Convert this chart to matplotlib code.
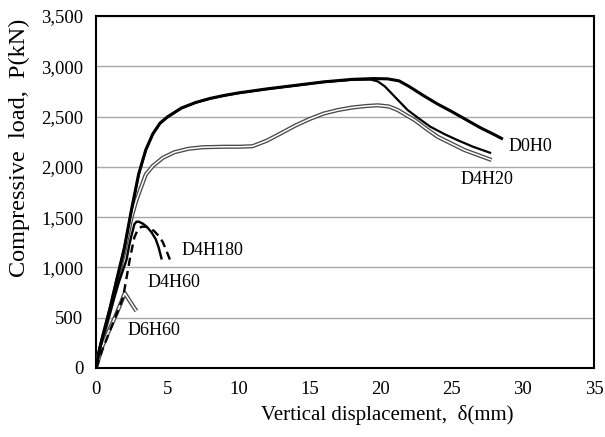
import matplotlib.pyplot as plt
from matplotlib.ticker import FuncFormatter

plt.rcParams["font.family"] = ["Liberation Serif", "DejaVu Serif"]

# curve data (mm, kN)
d0h0_x = [0, 0.2, 0.5, 1.0, 1.5, 2.0, 2.5, 3.0, 3.5, 4.0, 4.5, 5.0, 6.0, 7.0, 8.0, 9.0, 10.0, 12.0,
          14.0, 16.0, 18.0, 19.5, 20.5, 21.3, 22.0, 23.0, 24.0, 25.0, 26.0, 27.0, 28.0, 28.5]
d0h0_y = [0, 150, 330, 600, 900, 1200, 1580, 1930, 2170, 2330, 2435, 2495, 2585, 2640, 2680, 2710, 2735, 2775,
          2810, 2845, 2870, 2878, 2875, 2855, 2800, 2710, 2625, 2550, 2470, 2390, 2320, 2283]

d4h20a_x = [0, 0.2, 0.5, 1.0, 1.5, 2.0, 2.5, 3.0, 3.5, 4.0, 4.5, 5.0, 6.0, 7.0, 8.0, 9.0, 10.0, 12.0,
            14.0, 16.0, 18.0, 19.3, 19.8, 20.3, 21.0, 21.9, 22.7, 23.5, 24.5, 25.4, 26.5, 27.7]
d4h20a_y = [0, 140, 320, 590, 890, 1190, 1570, 1920, 2165, 2325, 2430, 2490, 2583, 2638, 2678, 2708, 2733, 2773,
            2808, 2843, 2866, 2868, 2850, 2800, 2697, 2565, 2480, 2399, 2325, 2266, 2200, 2140]

d4h20_x = [0, 0.2, 0.5, 1.0, 1.5, 2.0, 2.5, 2.8, 3.07, 3.5, 4.0, 4.7, 5.5, 6.5, 7.5, 9.0, 10.0, 11.0, 12.0,
           13.0, 14.0, 15.0, 16.0, 17.0, 18.0, 19.0, 19.8, 20.6, 21.2, 21.8, 22.4, 23.2, 24.0, 25.0, 25.9, 27.8]
d4h20_y = [0, 140, 310, 580, 880, 1160, 1500, 1650, 1760, 1924, 2010, 2090, 2145, 2180, 2195, 2200, 2200, 2205, 2260,
           2334, 2410, 2475, 2530, 2565, 2590, 2605, 2612, 2600, 2565, 2515, 2465, 2380, 2300, 2230, 2167, 2068]

d4h60_x = [0, 0.3, 1.0, 1.6, 2.14, 2.37, 2.5, 2.7, 2.85, 3.0, 3.3, 3.6, 3.9, 4.2, 4.4, 4.6]
d4h60_y = [0, 230, 560, 850, 1074, 1242, 1320, 1430, 1455, 1455, 1435, 1400, 1350, 1280, 1200, 1090]

d4h180_x = [0, 0.5, 1.2, 1.9, 2.4, 2.7, 2.95, 3.2, 3.5, 3.8, 4.1, 4.46, 4.7, 4.93, 5.3]
d4h180_y = [0, 200, 450, 700, 1100, 1300, 1380, 1405, 1405, 1390, 1360, 1305, 1250, 1173, 1040]

d6h60_x = [0, 0.4, 1.0, 1.5, 1.79, 2.02, 2.4, 2.84]
d6h60_y = [0, 200, 400, 560, 660, 745, 660, 566]

labels = ["D0H0", "D4H20", "D4H180", "D4H60", "D6H60"]
label_x = [29.0, 25.6, 6.0, 3.6, 2.2]
label_y = [2200, 1870, 1170, 855, 368]

fig = plt.figure(figsize=(6.05, 4.37), dpi=100)
ax = fig.add_axes([96 / 605, 69 / 437, 498 / 605, 352 / 437])


def double_line(x, y, lw_out=3.0, lw_in=1.1):
    ax.plot(x, y, color="#4a4a4a", lw=lw_out, solid_capstyle="butt", solid_joinstyle="round", zorder=3)
    ax.plot(x, y, color="white", lw=lw_in, solid_capstyle="butt", solid_joinstyle="round", zorder=4)


double_line(d4h20_x, d4h20_y)
double_line(d6h60_x, d6h60_y)
ax.plot(d4h20a_x, d4h20a_y, color="black", lw=1.6, zorder=5)
ax.plot(d0h0_x, d0h0_y, color="black", lw=2.2, zorder=5)
ax.plot(d4h60_x, d4h60_y, color="black", lw=1.7, zorder=5)
ax.plot(d4h180_x, d4h180_y, color="black", lw=1.7, ls=(0, (3.5, 2.2)), zorder=5)

for t, x, y in zip(labels, label_x, label_y):
    ax.text(x, y, t, fontsize=13, ha="left", va="center")

ax.set_xlim(0, 35)
ax.set_ylim(0, 3500)
ax.set_xticks(range(0, 36, 5))
ax.set_yticks(range(0, 3501, 500))
ax.yaxis.set_major_formatter(FuncFormatter(lambda v, p: f"{int(v):,}"))
ax.tick_params(length=0, labelsize=13.5, pad=9)
ax.grid(axis="y", color="#a8a8a8", lw=1)
ax.set_axisbelow(True)
for s in ax.spines.values():
    s.set_linewidth(1.5)
    s.set_color("black")

ax.set_xlabel("Vertical displacement,  δ(mm)", fontsize=15)
ax.xaxis.set_label_coords(0.584, -0.105)
ax.set_ylabel("Compressive  load,  P(kN)", fontsize=17.5)
ax.yaxis.set_label_coords(-0.133, 0.625)

fig.savefig("out.png", dpi=100)
